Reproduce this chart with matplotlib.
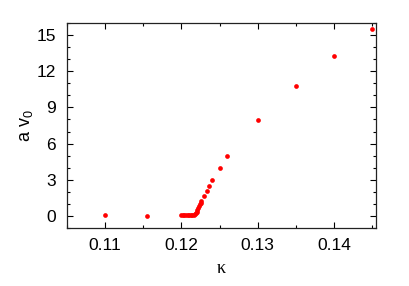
import numpy as np
import matplotlib
matplotlib.use('Agg')
import matplotlib.pyplot as plt
from matplotlib.ticker import MultipleLocator

plt.rcParams['font.family'] = ['Liberation Sans', 'DejaVu Sans']
plt.rcParams['mathtext.fontset'] = 'custom'
plt.rcParams['mathtext.rm'] = 'Liberation Sans'
plt.rcParams['mathtext.it'] = 'Liberation Sans'

# kappa values and a*v0
kappa = [0.110, 0.1155,
         0.1200, 0.1202, 0.1204, 0.1206, 0.1208, 0.1210, 0.1212, 0.1214, 0.1216, 0.1218,
         0.1219, 0.1220, 0.1221, 0.1222, 0.1223, 0.1224, 0.1225, 0.1226,
         0.1230, 0.1233, 0.1236, 0.1240, 0.1250, 0.1260,
         0.130, 0.135, 0.140, 0.145]
av0 = [0.05, -0.02,
       0.05, 0.05, 0.05, 0.05, 0.05, 0.05, 0.05, 0.06, 0.08, 0.12,
       0.22, 0.35, 0.5, 0.65, 0.8, 0.95, 1.1, 1.2,
       1.64, 2.06, 2.45, 2.95, 4.0, 4.95,
       7.92, 10.81, 13.25, 15.47]

fig = plt.figure(figsize=(4.09, 2.86), dpi=100)
ax = fig.add_axes([67 / 409, 58 / 286, 309 / 409, 205 / 286])

ax.plot(kappa, av0, 'o', color='#ff0000', markersize=3.4, markeredgewidth=0)

ax.set_xlim(0.105, 0.1455)
ax.set_ylim(-1, 16)
ax.xaxis.set_major_locator(MultipleLocator(0.01))
ax.xaxis.set_minor_locator(MultipleLocator(0.005))
ax.yaxis.set_major_locator(MultipleLocator(3))
ax.yaxis.set_minor_locator(MultipleLocator(1))
ax.set_xticks([0.11, 0.12, 0.13, 0.14])
ax.set_xticklabels(['0.11', '0.12', '0.13', '0.14'])
ax.tick_params(which='both', direction='in', top=True, right=True, width=0.8)
ax.tick_params(which='major', length=4, labelsize=12.5)
ax.tick_params(axis='x', which='major', pad=7)
ax.tick_params(axis='y', which='major', pad=8)
ax.tick_params(which='minor', length=2.5)
for s in ax.spines.values():
    s.set_linewidth(0.9)
    s.set_color('#222222')

ax.set_xlabel('κ', family='Liberation Serif', fontsize=13, labelpad=5)
ax.set_ylabel('a v$_0$', fontsize=13, labelpad=1)

fig.savefig('out.png', dpi=100)
